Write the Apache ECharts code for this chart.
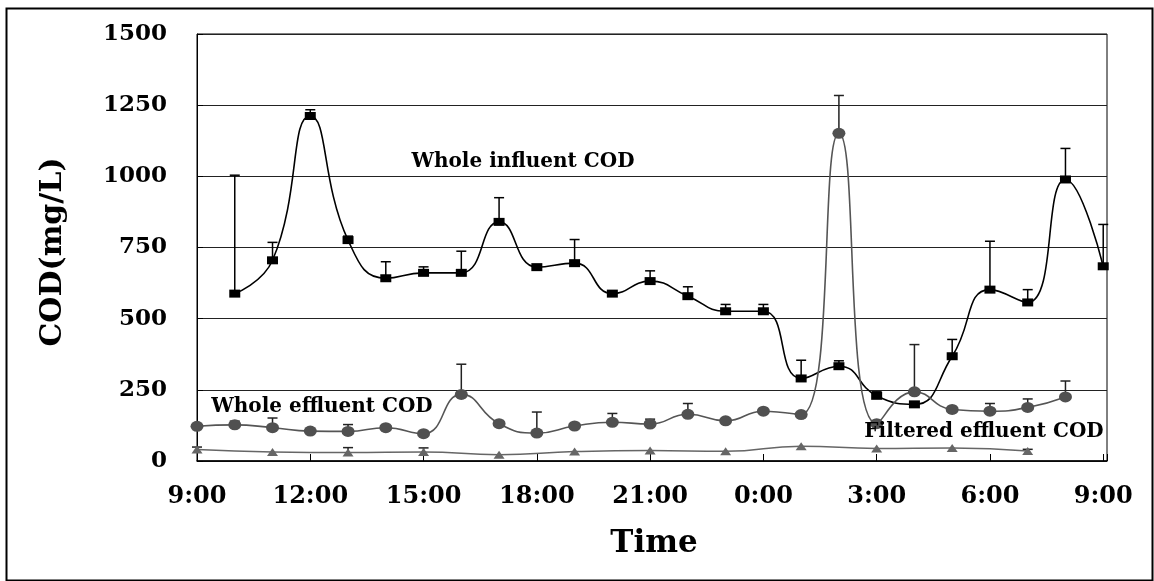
<!DOCTYPE html>
<html>
<head>
<meta charset="utf-8">
<script src="https://cdn.jsdelivr.net/npm/echarts@6/dist/echarts.min.js"></script>
<style>
html,body{margin:0;padding:0;background:#fff;}
#chart{width:1154px;height:581px;}
</style>
</head>
<body>
<div id="chart"></div>
<script>
// Hours after 9:00 (0 = 9:00, 24 = 9:00 next day)
const xTickLabels = ['9:00','12:00','15:00','18:00','21:00','0:00','3:00','6:00','9:00'];

const influentHours = [1,2,3,4,5,6,7,8,9,10,11,12,13,14,15,16,17,18,19,20,21,22,23,24];
const influentCOD   = [588,705,1212,776,642,661,661,840,681,695,588,632,579,526,526,290,333,229,199,368,602,557,989,684];
const influentTop   = [1004,768,1234,790,700,682,737,925,null,778,null,668,612,550,550,354,352,243,null,427,772,602,1098,831];

const effluentHours = [0,1,2,3,4,5,6,7,8,9,10,11,12,13,14,15,16,17,18,19,20,21,22,23];
const effluentCOD   = [122,127,117,105,104,117,96,234,131,98,123,136,130,164,141,175,163,1151,131,243,181,175,188,225];
const effluentTop   = [null,140,151,null,128,null,null,340,null,172,null,167,147,202,null,null,null,1284,null,409,null,202,218,281];

const filteredHours = [0,2,4,6,8,10,12,14,16,18,20,22];
const filteredCOD   = [40,32,30,32,22,33,37,34,52,44,46,35];
const filteredTop   = [49,null,47,46,null,null,null,null,null,null,null,41];

const FONT = 'DejaVu Serif';

function pairs(xs, ys){ return xs.map((x,i)=>[x, ys[i]]); }
function errPairs(xs, ys, tops){
  const out=[];
  xs.forEach((x,i)=>{ if(tops[i]!=null) out.push([x, ys[i], tops[i]]); });
  return out;
}
function errSeries(data, color){
  return {
    type:'custom',
    data:data,
    z:1,
    encode:{x:0,y:[1,2]},
    renderItem:function(params, api){
      const x=api.value(0), lo=api.value(1), hi=api.value(2);
      const p0=api.coord([x,lo]), p1=api.coord([x,hi]);
      const half=5;
      return {
        type:'group',
        children:[
          {type:'line',shape:{x1:p0[0],y1:p0[1],x2:p1[0],y2:p1[1]},style:{stroke:color,lineWidth:1.5}},
          {type:'line',shape:{x1:p1[0]-half,y1:p1[1],x2:p1[0]+half,y2:p1[1]},style:{stroke:color,lineWidth:1.5}}
        ]
      };
    }
  };
}

const chart = echarts.init(document.getElementById('chart'), null, {renderer:'canvas'});
chart.setOption({
  animation:false,
  backgroundColor:'#fff',
  grid:{left:197, top:34, right:47, bottom:120, show:true, borderColor:'#000', borderWidth:1, backgroundColor:'transparent'},
  xAxis:{
    type:'value', min:0, max:24.1, interval:3,
    axisLine:{show:true, lineStyle:{color:'#000', width:1.5}},
    axisTick:{show:true, inside:true, length:7, lineStyle:{color:'#000'}},
    splitLine:{show:false},
    axisLabel:{
      margin:24, color:'#000', fontFamily:FONT, fontWeight:'bold', fontSize:24,
      showMaxLabel:true,
      formatter:function(v){
        const r=Math.round(v);
        if(Math.abs(v-r)>1e-6 || r%3!==0) return '';
        return xTickLabels[r/3];
      }
    }
  },
  yAxis:{
    type:'value', min:0, max:1500, interval:250,
    axisLine:{show:true, lineStyle:{color:'#000', width:1}},
    axisTick:{show:true, inside:true, length:6, lineStyle:{color:'#000'}},
    splitLine:{show:true, lineStyle:{color:'#222', width:1}},
    axisLabel:{margin:30, color:'#000', fontFamily:FONT, fontWeight:'bold', fontSize:23,
      formatter:function(v){ return String(v); }}
  },
  graphic:[
    {type:'rect', left:4, top:6, shape:{width:1146, height:572}, style:{fill:'none', stroke:'#000', lineWidth:2}, z:-10, silent:true},
    {type:'text', x:53, y:252, rotation:Math.PI/2, style:{text:'COD(mg/L)', font:'bold 30px "'+FONT+'"', fill:'#000', align:'center', verticalAlign:'middle'}},
    {type:'text', x:654, y:544, style:{text:'Time', font:'bold 31px "'+FONT+'"', fill:'#000', align:'center', verticalAlign:'middle'}},
    {type:'text', x:523, y:162, style:{text:'Whole influent COD', font:'bold 20px "'+FONT+'"', fill:'#000', align:'center', verticalAlign:'middle'}, z:100},
    {type:'text', x:322, y:407, style:{text:'Whole effluent COD', font:'bold 20px "'+FONT+'"', fill:'#000', align:'center', verticalAlign:'middle'}, z:100},
    {type:'text', x:984, y:432, style:{text:'Filtered effluent COD', font:'bold 20px "'+FONT+'"', fill:'#000', align:'center', verticalAlign:'middle'}, z:100}
  ],
  series:[
    errSeries(errPairs(influentHours, influentCOD, influentTop), '#000'),
    errSeries(errPairs(effluentHours, effluentCOD, effluentTop), '#222'),
    errSeries(errPairs(filteredHours, filteredCOD, filteredTop), '#222'),
    {
      name:'Filtered effluent COD', type:'line', data:pairs(filteredHours, filteredCOD),
      smooth:0.5, symbol:'triangle', symbolSize:[11,8],
      lineStyle:{color:'#666', width:1.5}, itemStyle:{color:'#666'}, z:3
    },
    {
      name:'Whole influent COD', type:'line', data:pairs(influentHours, influentCOD),
      smooth:0.5, symbol:'rect', symbolSize:[11,8],
      lineStyle:{color:'#000', width:1.6}, itemStyle:{color:'#000'}, z:4
    },
    {
      name:'Whole effluent COD', type:'line', data:pairs(effluentHours, effluentCOD),
      smooth:0.5, symbol:'circle', symbolSize:[13,11],
      lineStyle:{color:'#555', width:1.6}, itemStyle:{color:'#505050'}, z:5
    }
  ]
});
</script>
</body>
</html>
